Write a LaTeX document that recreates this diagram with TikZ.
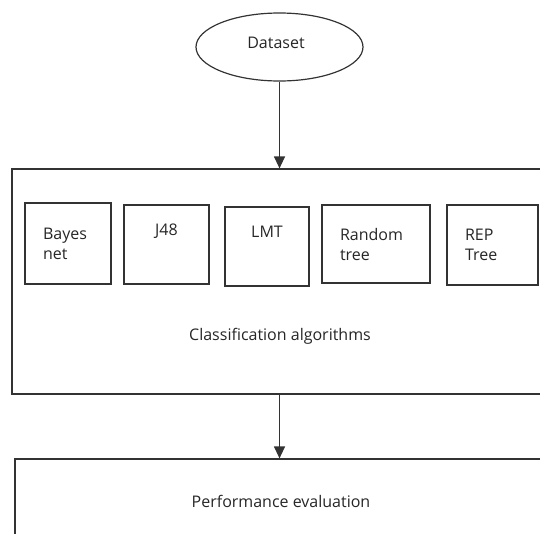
\documentclass[tikz,border=0pt]{standalone}
\usepackage{fontspec}
\setmainfont{Open Sans}
\usetikzlibrary{arrows.meta,shapes.geometric}
\tikzset{
  line/.style={draw=black!80, line width=1.2pt},
  arr/.style={line, -{Triangle[length=12pt,width=11pt]}},
  txt/.style={font=\fontsize{16pt}{20pt}\selectfont, text=black!85},
  algbox/.style={line, rectangle, txt, inner ysep=0pt},
}
\begin{document}
\begin{tikzpicture}[x=1pt,y=-1pt]
\useasboundingbox (0,0) rectangle (540,533);
\clip (0,0) rectangle (540,533);
% dataset
\node[line, ellipse, txt, minimum width=167pt, minimum height=68pt, inner sep=0pt] (dataset) at (279.5,47) {};
\node[txt] (datalbl) at (276,43) {Dataset};
% big box
\node[line, rectangle, minimum width=560pt, minimum height=225pt, inner sep=0pt] (algos) at (292,281.5) {};
\node[txt] (algolbl) at (280,336) {Classification algorithms};
% inner boxes
\node[algbox, minimum width=86pt, minimum height=81pt, text width=50pt, inner xsep=18pt, align=left] (bayes) at (68,243.5) {Bayes\\net};
\node[algbox, minimum width=85pt, minimum height=79pt, text width=65pt, inner xsep=10pt, align=center] (j48) at (166.5,244.5) {J48\\[10pt]\mbox{}};
\node[algbox, minimum width=84pt, minimum height=79pt, text width=64pt, inner xsep=10pt, align=center] (lmt) at (267,246.5) {LMT\\[10pt]\mbox{}};
\node[algbox, minimum width=108pt, minimum height=78pt, text width=72pt, inner xsep=18pt, align=left] (rtree) at (376,244) {Random\\tree};
\node[algbox, minimum width=91pt, minimum height=80pt, text width=55pt, inner xsep=18pt, align=left] (rep) at (492.5,245) {REP\\Tree};
% bottom box
\node[line, rectangle, minimum width=560pt, minimum height=120pt, inner sep=0pt] (perf) at (295,519) {};
\node[txt] (perflbl) at (281,501) {Performance evaluation};
% arrows
\draw[arr] (dataset.south) -- (dataset.south |- algos.north);
\draw[arr] (dataset.south |- algos.south) -- (dataset.south |- perf.north);
\end{tikzpicture}
\end{document}
